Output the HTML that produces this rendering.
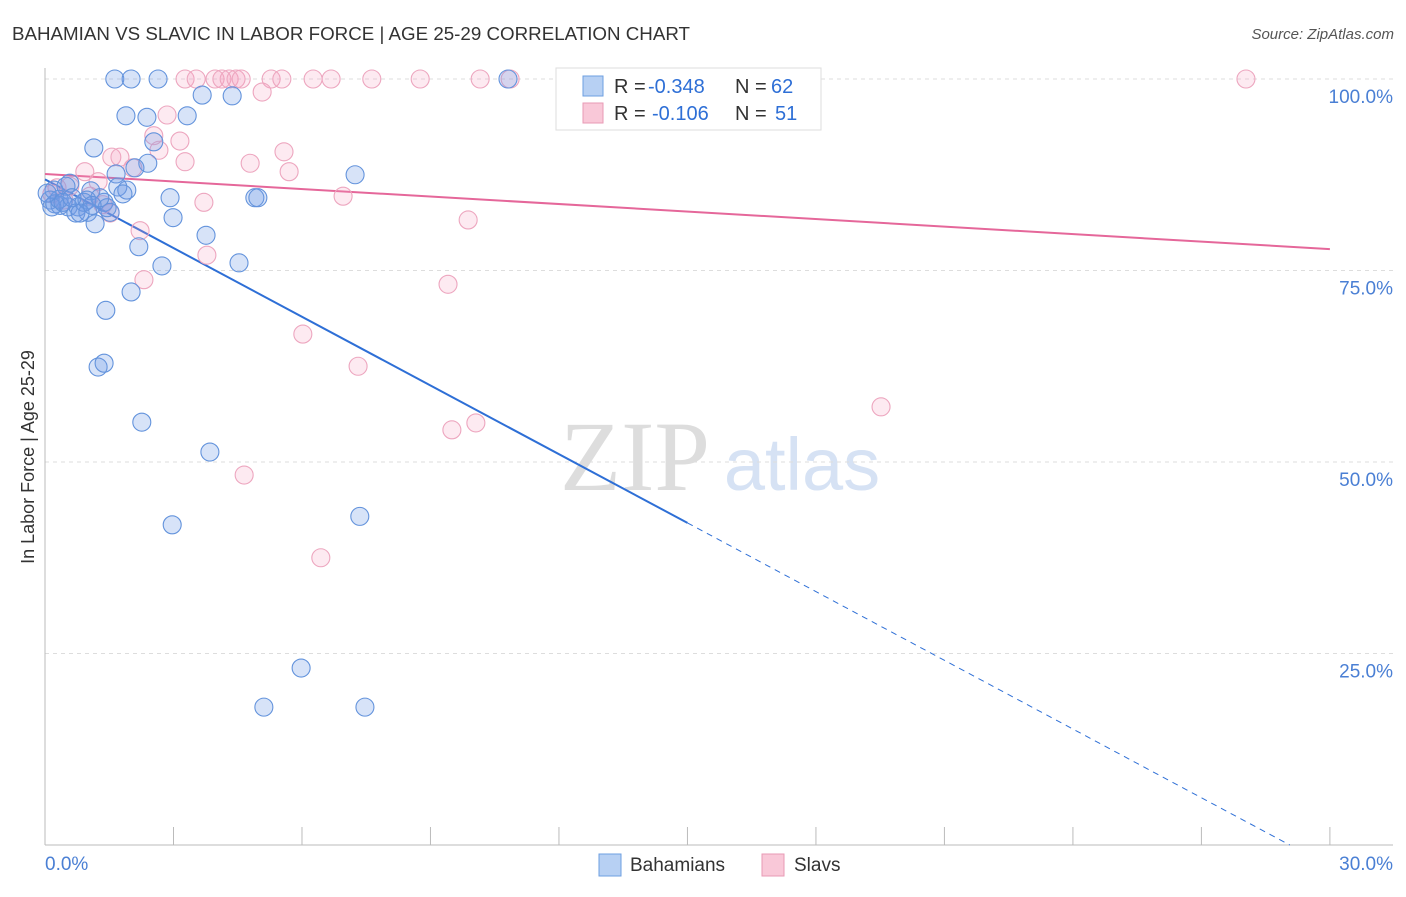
<!DOCTYPE html>
<html><head><meta charset="utf-8"><style>
body{margin:0;background:#fff;font-family:"Liberation Sans",sans-serif}
</style></head><body>
<svg id="chart" width="1406" height="892" xmlns="http://www.w3.org/2000/svg" font-family="Liberation Sans, sans-serif">
<text x="12" y="40" font-size="18" fill="#333" textLength="678" lengthAdjust="spacingAndGlyphs">BAHAMIAN VS SLAVIC IN LABOR FORCE | AGE 25-29 CORRELATION CHART</text>
<text x="1394" y="39" font-size="15" fill="#555" font-style="italic" text-anchor="end">Source: ZipAtlas.com</text>
<g><text x="635" y="490" font-size="100" fill="#ddd" font-family="Liberation Serif, serif" text-anchor="middle">ZIP</text><text x="802" y="490" font-size="74" fill="#d6e2f4" text-anchor="middle">atlas</text></g>
<g id="grid"></g><g id="axes"></g><g id="trend"></g><g id="pts"></g>
<text transform="translate(34,457) rotate(-90)" font-size="18" fill="#333" text-anchor="middle">In Labor Force | Age 25-29</text>
<g font-size="20">
<rect x="556" y="68" width="265" height="62" fill="#fff" stroke="#ddd"/>
<rect x="583" y="76" width="20" height="20" fill="#b7d0f3" stroke="#6e9fe0"/>
<rect x="583" y="103" width="20" height="20" fill="#f9c8d8" stroke="#e89ab5"/>
<text x="614" y="93" fill="#333">R =</text><text x="648" y="93" fill="#2e6fd6">-0.348</text>
<text x="735" y="93" fill="#333">N =</text><text x="771" y="93" fill="#2e6fd6">62</text>
<text x="614" y="120" fill="#333">R =</text><text x="652" y="120" fill="#2e6fd6">-0.106</text>
<text x="735" y="120" fill="#333">N =</text><text x="775" y="120" fill="#2e6fd6">51</text>
</g>
<g>
<rect x="599" y="854" width="22" height="22" fill="#b7d0f3" stroke="#6e9fe0"/><text x="630" y="871" font-size="19" fill="#333">Bahamians</text>
<rect x="762" y="854" width="22" height="22" fill="#f9c8d8" stroke="#e89ab5"/><text x="794" y="871" font-size="19" fill="#333">Slavs</text>
</g>
</svg>
<script>
const yTicks=[25,50,75,100];
const xLabels=["0.0%","30.0%"];
const blueX=[1.63,2.01,2.64,10.81,3.67,4.37,1.89,2.38,3.32,2.54,1.14,2.40,2.10,7.24,1.66,0.21,0.58,0.49,1.07,1.70,1.91,1.82,2.92,4.90,4.97,0.12,0.23,0.35,0.54,0.77,0.72,0.91,0.98,1.38,1.52,1.45,1.00,2.99,1.17,3.76,2.19,2.73,4.53,2.01,1.42,1.24,1.38,2.26,3.85,2.97,7.35,5.98,5.11,7.47,0.16,0.33,0.42,0.05,0.82,1.28,0.63,1.10];
const blueY=[100,100,100,100,97.9,97.8,95.2,95.0,95.2,91.8,91.0,89.0,88.4,87.5,87.6,85.5,86.4,86.0,85.4,85.9,85.5,85.0,84.5,84.5,84.5,84.2,83.7,83.5,83.3,83.3,82.5,83.9,84.2,83.9,82.6,83.2,82.6,81.9,81.1,79.6,78.1,75.6,76.0,72.2,69.8,62.4,62.9,55.2,51.3,41.8,42.9,23.1,18.0,18.0,83.3,84.3,83.9,85.1,82.5,84.5,84.5,83.5];
const pinkX=[3.27,3.53,3.97,4.13,4.30,4.46,4.58,5.28,5.53,6.26,6.68,7.63,8.76,10.16,10.86,28.04,5.07,2.85,2.54,3.15,2.66,1.56,1.75,3.27,4.79,5.58,5.70,0.93,2.05,1.24,0.58,0.28,0.16,6.96,3.71,1.35,1.52,9.88,2.22,3.78,2.31,9.41,6.02,7.31,19.52,10.06,9.50,4.65,6.44,0.44,1.05];
const pinkY=[100,100,100,100,100,100,100,100,100,100,100,100,100,100,100,100,98.3,95.3,92.6,91.9,90.7,89.8,89.8,89.2,89.0,90.5,87.9,87.9,88.4,86.6,86.0,85.8,85.0,84.7,83.9,83.6,82.5,81.6,80.2,77.0,73.8,73.2,66.7,62.5,57.2,55.1,54.2,48.3,37.5,84.2,84.7];
const blueTrend=[86.9,-2.99];
const pinkTrend=[87.6,-0.327];
const NS="http://www.w3.org/2000/svg";
const sx=v=>45+v*42.83, sy=v=>845-v*7.66;
function mk(p,tag,a){const e=document.createElementNS(NS,tag);for(const k in a)e.setAttribute(k,a[k]);p.appendChild(e);return e;}
const grid=document.getElementById('grid'),axes=document.getElementById('axes'),tr=document.getElementById('trend'),pts=document.getElementById('pts');
yTicks.forEach(t=>{
 const l=mk(grid,'line',{x1:45,x2:1393,y1:sy(t),y2:sy(t),stroke:'#ddd','stroke-dasharray':'4,4'});
 
 
 const tx=mk(grid,'text',{x:1393,y:sy(t)+24,'font-size':19,fill:'#4a7fd4','text-anchor':'end'});tx.textContent=t.toFixed(1)+'%';
 
 
});
let ax=mk(axes,'line',{x1:45,x2:45,y1:68,y2:845,stroke:'#bbb'});


ax=mk(axes,'line',{x1:45,x2:1393,y1:845,y2:845,stroke:'#bbb'});


for(let i=0;i<=10;i++){const t=mk(axes,'line',{x1:sx(i*3),x2:sx(i*3),y1:827,y2:845,stroke:'#bbb'});
 
 }
let xl=mk(axes,'text',{x:45,y:870,'font-size':19,fill:'#4a7fd4'});xl.textContent=xLabels[0];


xl=mk(axes,'text',{x:1393,y:870,'font-size':19,fill:'#4a7fd4','text-anchor':'end'});xl.textContent=xLabels[1];


function draw(X,Y,fill,stroke,name){X.forEach((x,i)=>{const c=mk(pts,'circle',{cx:sx(x),cy:sy(Y[i]),r:9,fill:fill,stroke:stroke,'stroke-width':1.1});
 
 });}
draw(pinkX,pinkY,'rgba(245,160,190,0.22)','#eda6bf','slav-point');
draw(blueX,blueY,'rgba(110,155,230,0.28)','#6393dc','bahamian-point');
const bz=-blueTrend[0]/blueTrend[1];
let l=mk(tr,'line',{x1:sx(0),y1:sy(blueTrend[0]),x2:sx(15),y2:sy(blueTrend[0]+15*blueTrend[1]),stroke:'#2e6fd6','stroke-width':2});


l=mk(tr,'line',{x1:sx(15),y1:sy(blueTrend[0]+15*blueTrend[1]),x2:sx(bz),y2:sy(0),stroke:'#2e6fd6','stroke-width':1,'stroke-dasharray':'6,5'});


l=mk(tr,'line',{x1:sx(0),y1:sy(pinkTrend[0]),x2:sx(30),y2:sy(pinkTrend[0]+30*pinkTrend[1]),stroke:'#e5679a','stroke-width':2});


</script>
</body></html>
